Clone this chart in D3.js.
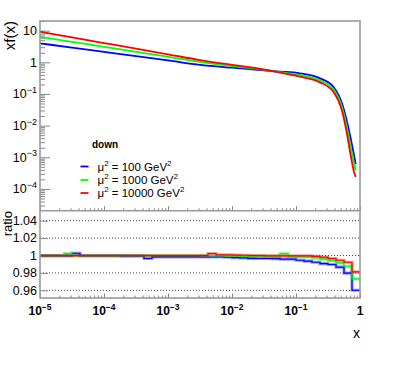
<!DOCTYPE html>
<html><head><meta charset="utf-8">
<script src="https://cdn.jsdelivr.net/npm/d3@7"></script>
<style>
body{margin:0;background:#fff}
svg{display:block}
text{font-family:"Liberation Sans",Arial,Helvetica,sans-serif;fill:#000}
</style>
</head><body>
<svg id="chart" width="400" height="386"></svg>
<script>
// ---------- data ----------
const xValues = [1e-5, 3.16e-5, 1e-4, 3.16e-4, 1e-3, 3.16e-3, 0.01, 0.0251, 0.0501, 0.1155, 0.237, 0.383, 0.524, 0.627, 0.723, 0.805, 0.857];
const xfMu100   = [3.98, 2.92, 2.14, 1.57, 1.148, 0.832, 0.676, 0.582, 0.513, 0.449, 0.312, 0.169, 0.0499, 0.01327, 0.00351, 0.00118, 0.000603];
const xfMu1000  = [6.40, 4.45, 3.09, 2.15, 1.49, 1.03, 0.759, 0.612, 0.507, 0.398, 0.269, 0.141, 0.0380, 0.00851, 0.00191, 0.000646, 0.00038];
const xfMu10000 = [9.27, 6.14, 4.06, 2.69, 1.79, 1.18, 0.832, 0.638, 0.501, 0.351, 0.233, 0.118, 0.0289, 0.00543, 0.00101, 0.000347, 0.000238];

const seriesLabels = [["100"], ["1000"], ["10000"]];
const seriesColors = ["#0000ff", "#00ff00", "#ff0000"];
const legendTitle = "down";

// ratio, 40 bins of 1/8 decade from 1e-5 to 1
const ratioMu100 = [1.0000,1.0000,1.0000,1.0000,1.0026,1.0000,0.9999,0.9999,0.9998,0.9998,
                    0.9997,0.9996,0.9995,0.9966,0.9984,0.9984,0.9984,0.9984,0.9984,0.9984,
                    0.9983,0.9983,0.9983,0.9980,0.9977,0.9972,0.9967,0.9966,0.9966,0.9965,
                    0.9958,0.9958,0.9946,0.9935,0.9923,0.9908,0.9897,0.9866,0.9797,0.9601];
const ratioMu1000 = [1.0000,1.0000,1.0000,1.0023,1.0000,1.0000,1.0000,1.0000,1.0000,1.0000,
                     1.0000,1.0000,1.0000,1.0000,1.0000,1.0000,1.0000,1.0000,0.9999,0.9999,
                     0.9999,0.9999,0.9998,0.9997,0.9995,0.9993,0.9992,0.9992,0.9992,0.9992,
                     1.0023,0.9985,0.9985,0.9985,0.9973,0.9958,0.9943,0.9916,0.9877,0.9732];
const ratioMu10000 = [1.0000,1.0000,1.0000,1.0000,1.0000,1.0000,1.0000,1.0000,1.0000,1.0000,
                      1.0000,1.0000,1.0000,1.0000,1.0000,1.0000,1.0000,1.0000,1.0000,1.0000,
                      1.0000,1.0023,1.0008,1.0007,1.0005,1.0003,0.9999,0.9998,0.9997,0.9997,
                      0.9996,0.9996,0.9996,0.9996,0.9990,0.9981,0.9966,0.9946,0.9923,0.9812];

const xTickValues = [1e-5, 1e-4, 1e-3, 1e-2, 1e-1, 1];
const xTickLabels = [["10","\u22125"],["10","\u22124"],["10","\u22123"],["10","\u22122"],["10","\u22121"],["1",""]];
const yTopTickValues = [10, 1, 0.1, 0.01, 0.001, 0.0001];
const yTopTickLabels = [["10",""],["1",""],["10","\u22121"],["10","\u22122"],["10","\u22123"],["10","\u22124"]];
const ratioTickValues = [1.04, 1.02, 1.00, 0.98, 0.96];
const ratioTickLabels = ["1.04", "1.02", "1", "0.98", "0.96"];

// ---------- layout ----------
const L = 40, R = 360, T = 21, MID = 210.7, B = 298;
const svg = d3.select("#chart");

const x = d3.scaleLog().domain([1e-5, 1]).range([L, R]);
const yTop = d3.scaleLog().domain([2.05e-5, 20.2]).range([MID, T]);
const yRat = d3.scaleLinear().domain([0.9512, 1.0515]).range([B, MID]);

const frameColor = "#9a9a9a";
const tickColor = "#888";

// minor tick lists
function logMinors(lo, hi) {
  const out = [];
  for (let e = Math.floor(Math.log10(lo)); e <= Math.ceil(Math.log10(hi)); e++) {
    for (let k = 2; k <= 9; k++) { const v = k * Math.pow(10, e); if (v > lo && v < hi) out.push(v); }
  }
  return out;
}
const xMinors = logMinors(1e-5, 1);
const yMinors = logMinors(2.05e-5, 20.2);

// clip paths
const defs = svg.append("defs");
defs.append("clipPath").attr("id","clipTop").append("rect").attr("x",L).attr("y",T).attr("width",R-L).attr("height",MID-T);
defs.append("clipPath").attr("id","clipBot").append("rect").attr("x",L).attr("y",MID).attr("width",R-L).attr("height",B-MID);

// ---------- ratio grid ----------
svg.append("g").selectAll("line").data(ratioTickValues).join("line")
  .attr("x1", L).attr("x2", R)
  .attr("y1", d => yRat(d)).attr("y2", d => yRat(d))
  .attr("stroke", "#444").attr("stroke-width", 1).attr("stroke-dasharray", "1,2");

// ---------- axes (ticks) ----------
function styleAxis(g) {
  g.select(".domain").remove();
  g.selectAll(".tick line").attr("stroke", tickColor).attr("stroke-width", 1);
  g.selectAll(".tick text").remove();
}
// upper y
svg.append("g").attr("transform",`translate(${L},0)`)
  .call(d3.axisLeft(yTop).tickValues(yTopTickValues).tickSize(-10).tickFormat("")).call(styleAxis);
svg.append("g").attr("transform",`translate(${L},0)`)
  .call(d3.axisLeft(yTop).tickValues(yMinors).tickSize(-5).tickFormat("")).call(styleAxis);
// upper x (bottom of upper pad)
svg.append("g").attr("transform",`translate(0,${MID})`)
  .call(d3.axisBottom(x).tickValues(xTickValues).tickSize(-4.5).tickFormat("")).call(styleAxis);
svg.append("g").attr("transform",`translate(0,${MID})`)
  .call(d3.axisBottom(x).tickValues(xMinors).tickSize(-2.5).tickFormat("")).call(styleAxis);
// lower x
svg.append("g").attr("transform",`translate(0,${B})`)
  .call(d3.axisBottom(x).tickValues(xTickValues).tickSize(-4.5).tickFormat("")).call(styleAxis);
svg.append("g").attr("transform",`translate(0,${B})`)
  .call(d3.axisBottom(x).tickValues(xMinors).tickSize(-2.5).tickFormat("")).call(styleAxis);
// lower y
svg.append("g").attr("transform",`translate(${L},0)`)
  .call(d3.axisLeft(yRat).tickValues(ratioTickValues).tickSize(-8).tickFormat("")).call(styleAxis);

// ---------- upper curves ----------
const series = [xfMu100, xfMu1000, xfMu10000];
const line = d3.line().x((d,i) => x(xValues[i])).y(d => yTop(d)).curve(d3.curveMonotoneX);
svg.append("g").attr("clip-path","url(#clipTop)").selectAll("path").data(series).join("path")
  .attr("d", d => line(d))
  .attr("fill","none").attr("stroke",(d,i)=>seriesColors[i]).attr("stroke-width",1.8);

// ---------- ratio steps ----------
const nBins = ratioMu100.length;
const edges = d3.range(nBins + 1).map(k => Math.pow(10, -5 + 5 * k / nBins));
const ratios = [ratioMu100, ratioMu1000, ratioMu10000];
const stepLine = d3.line().x(d => x(d[0])).y(d => yRat(d[1])).curve(d3.curveStepAfter);
function stepPts(arr) { const p = arr.map((v,k)=>[edges[k], v]); p.push([edges[nBins], arr[nBins-1]]); return p; }
const gR = svg.append("g").attr("clip-path","url(#clipBot)");
ratios.forEach((arr,i) => {
  gR.append("path").attr("d", stepLine(stepPts(arr))).attr("fill","none")
    .attr("stroke", seriesColors[i]).attr("stroke-opacity",0.4).attr("stroke-width",3.2);
});
ratios.forEach((arr,i) => {
  gR.append("path").attr("d", stepLine(stepPts(arr))).attr("fill","none")
    .attr("stroke", seriesColors[i]).attr("stroke-width",1.2);
});

// ---------- frame ----------
const fr = svg.append("g").attr("fill","none").attr("stroke",frameColor).attr("stroke-width",1.6);
fr.append("rect").attr("x",L).attr("y",T).attr("width",R-L).attr("height",B-T);
fr.append("line").attr("x1",L).attr("x2",R).attr("y1",MID).attr("y2",MID);

// ---------- labels ----------
function supLabel(sel, base, sup, size, supSize) {
  sel.append("tspan").text(base).attr("font-size", size);
  if (sup) sel.append("tspan").text(sup).attr("font-size", supSize).attr("dy", -size*0.42);
}
// upper y labels
svg.append("g").selectAll("text").data(yTopTickValues).join("text")
  .attr("x", 37).attr("y", d => yTop(d) + 4.3).attr("text-anchor","end")
  .each(function(d,i){ supLabel(d3.select(this), yTopTickLabels[i][0], yTopTickLabels[i][1], 12.5, 9); });
// ratio labels
svg.append("g").selectAll("text").data(ratioTickValues).join("text")
  .attr("x", 37).attr("y", d => yRat(d) + 4.3).attr("text-anchor","end").attr("font-size",12.5)
  .text((d,i) => ratioTickLabels[i]);
// x labels
svg.append("g").selectAll("text").data(xTickValues).join("text")
  .attr("x", d => x(d)).attr("y", 315).attr("text-anchor","middle").attr("font-weight","bold")
  .each(function(d,i){ supLabel(d3.select(this), xTickLabels[i][0], xTickLabels[i][1], 12, 8.5); });

// axis titles
svg.append("text").attr("transform","translate(15,21) rotate(-90)").attr("text-anchor","end")
  .attr("font-size",15).text("xf(x)");
svg.append("text").attr("transform","translate(11.5,211) rotate(-90)").attr("text-anchor","end")
  .attr("font-size",13).text("ratio");
svg.append("text").attr("x",360).attr("y",338).attr("text-anchor","end").attr("font-size",14).text("x");

// ---------- legend ----------
const lg = svg.append("g");
lg.append("text").attr("x",92).attr("y",147.5).attr("font-size",10).attr("font-weight","bold").text(legendTitle);
const legY = [166.5, 180, 193];
seriesLabels.forEach((lab,i) => {
  lg.append("line").attr("x1",80.5).attr("x2",88.5).attr("y1",legY[i]).attr("y2",legY[i])
    .attr("stroke",seriesColors[i]).attr("stroke-width",1.8);
  const t = lg.append("text").attr("x",97.5).attr("y",legY[i]+4.2).attr("font-size",11.5);
  t.append("tspan").text("\u03bc");
  t.append("tspan").text("2").attr("font-size",8).attr("dy",-5);
  t.append("tspan").text(" = " + lab[0] + " GeV").attr("dy",5);
  t.append("tspan").text("2").attr("font-size",8).attr("dy",-5);
});
</script>
</body></html>
